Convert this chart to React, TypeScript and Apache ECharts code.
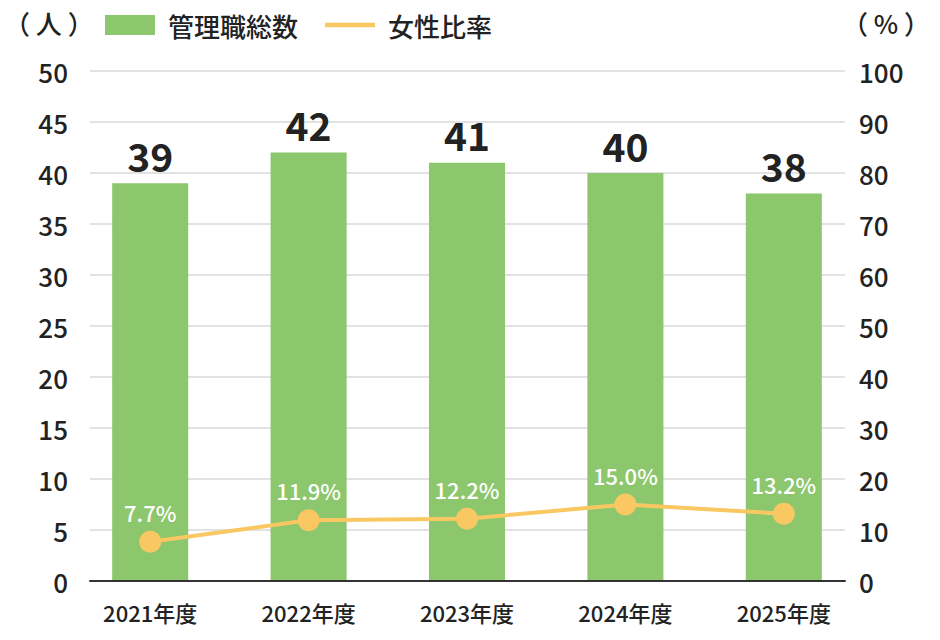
import React, { useEffect, useRef } from "react";
import * as echarts from "echarts";

const categories = ["2021年度", "2022年度", "2023年度", "2024年度", "2025年度"];
const managerTotals = [39, 42, 41, 40, 38];
const femaleRatio = [7.7, 11.9, 12.2, 15.0, 13.2];
const leftTicks = { min: 0, max: 50, interval: 5 };
const rightTicks = { min: 0, max: 100, interval: 10 };

const FONT = "'Noto Sans CJK JP', 'Noto Sans', sans-serif";
const GREEN = "#8cc66d";
const YELLOW = "#f9c862";
const TEXT = "#222222";
const W = 500;

export default function App() {
  const ref = useRef<HTMLDivElement>(null);
  useEffect(() => {
    if (!ref.current) return;
    const chart = echarts.init(ref.current, undefined, { renderer: "svg" });
    const hiddenY = {
      type: "value",
      gridIndex: 0,
      axisLine: { show: false },
      axisTick: { show: false },
      axisLabel: { show: false },
      splitLine: { show: false },
    };
    chart.setOption({
      animation: false,
      textStyle: { fontFamily: FONT },
      grid: [
        // grid for the marks (category bands)
        { left: 71, right: 77, top: 71, bottom: 59, containLabel: false },
        // grid for frame: split lines and axis line
        { left: 90, right: 95, top: 71, bottom: 59, containLabel: false },
      ],
      legend: {
        left: 105,
        top: 12,
        padding: 0,
        itemWidth: 50,
        itemHeight: 20,
        itemGap: 27,
        textStyle: { fontFamily: FONT, fontSize: 26, fontWeight: W, color: TEXT, padding: [0, 0, 0, 8] },
        data: [
          { name: "管理職総数", icon: "rect" },
          { name: "女性比率", icon: "path://M0,8H45V12H0Z" },
        ],
      },
      graphic: [
        {
          type: "text",
          left: 4,
          top: 9,
          style: { text: "（ 人 ）", font: `${W} 26px ${FONT}`, fill: TEXT },
        },
        {
          type: "text",
          left: 842,
          top: 9,
          style: { text: "（ % ）", font: `${W} 26px ${FONT}`, fill: TEXT },
        },
      ],
      xAxis: [
        {
          type: "category",
          gridIndex: 0,
          data: categories,
          axisTick: { show: false },
          axisLine: { show: false },
          axisLabel: { color: TEXT, fontSize: 22, fontWeight: W, margin: 20, fontFamily: FONT },
        },
        {
          type: "category",
          gridIndex: 1,
          data: categories,
          axisTick: { show: false },
          axisLabel: { show: false },
          axisLine: { lineStyle: { color: "#333333", width: 2 } },
          z: 5,
        },
      ],
      yAxis: [
        { ...hiddenY, ...leftTicks },
        { ...hiddenY, ...rightTicks, position: "right" },
        {
          type: "value",
          gridIndex: 1,
          ...leftTicks,
          axisLine: { show: false },
          axisTick: { show: false },
          splitLine: { lineStyle: { color: "#e2e2e2", width: 2 } },
          axisLabel: { color: TEXT, fontSize: 26, fontWeight: W, margin: 22, fontFamily: FONT },
        },
        {
          type: "value",
          gridIndex: 1,
          position: "right",
          ...rightTicks,
          axisLine: { show: false },
          axisTick: { show: false },
          splitLine: { show: false },
          axisLabel: { color: TEXT, fontSize: 26, fontWeight: W, margin: 14, fontFamily: FONT },
        },
      ],
      series: [
        {
          name: "管理職総数",
          type: "bar",
          xAxisIndex: 0,
          yAxisIndex: 0,
          data: managerTotals,
          barWidth: "48%",
          itemStyle: { color: GREEN },
          label: {
            show: true,
            position: "top",
            distance: 9,
            color: TEXT,
            fontSize: 39,
            fontWeight: "bold",
            fontFamily: FONT,
          },
        },
        {
          name: "女性比率",
          type: "line",
          xAxisIndex: 0,
          yAxisIndex: 1,
          data: femaleRatio,
          symbol: "circle",
          symbolSize: 22,
          lineStyle: { color: YELLOW, width: 4 },
          itemStyle: { color: YELLOW },
          label: {
            show: true,
            position: "top",
            distance: 8,
            color: "#ffffff",
            fontSize: 22,
            fontWeight: W,
            fontFamily: FONT,
            formatter: (p: any) => `${Number(p.value).toFixed(1)}%`,
          },
        },
      ],
    });
    return () => chart.dispose();
  }, []);
  return (
    <div
      ref={ref}
      style={{ position: "absolute", left: 0, top: 0, width: 940, height: 640 }}
    />
  );
}
